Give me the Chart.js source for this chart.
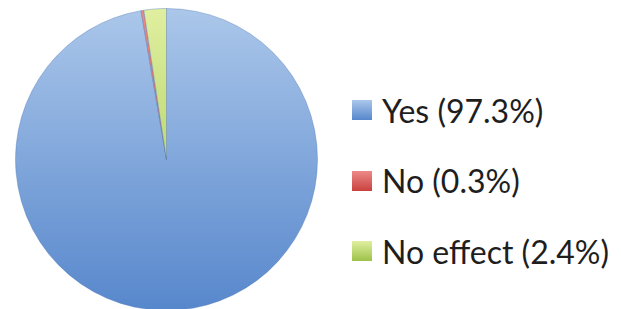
<!DOCTYPE html>
<html>
<head>
<meta charset="utf-8">
<script src="https://cdn.jsdelivr.net/npm/chart.js@4"></script>
<style>
  html, body { margin: 0; padding: 0; background: #fff; overflow: hidden; }
  body { width: 621px; height: 309px; position: relative; }
  #wrap { position: absolute; left: 0; top: 0; width: 333px; height: 319px; }
  #legend { position: absolute; left: 352px; top: 0; font-family: 'Lato', 'Open Sans', sans-serif; color: #1e1e1e; }
  .row { position: absolute; left: 0; height: 30px; display: flex; align-items: center; white-space: nowrap; }
  .box { width: 20px; height: 20px; margin-right: 10px; box-sizing: border-box; }
  .txt { font-size: 32px; }
</style>
</head>
<body>
<div id="wrap"><canvas id="grafico"></canvas></div>
<div id="legend"></div>
<script>
const categorias = ['Yes', 'No', 'No effect'];
const valores = [97.3, 0.3, 2.4];

// cores: [claro, escuro] para o degradê de cada fatia
const cores = [
    ['#abc7ea', '#5787cc'],
    ['#ec8a88', '#c9413e'],
    ['#e0efa0', '#9cc24a']
];

document.addEventListener("DOMContentLoaded", function() {
    const ctx = document.getElementById('grafico').getContext('2d');

    function degrade(context) {
        const area = context.chart.chartArea;
        if (!area) return cores[context.dataIndex][1];
        const g = context.chart.ctx.createLinearGradient(0, area.top, 0, area.bottom);
        g.addColorStop(0, cores[context.dataIndex][0]);
        g.addColorStop(1, cores[context.dataIndex][1]);
        return g;
    }

    new Chart(ctx, {
        type: 'pie',
        data: {
            labels: categorias,
            datasets: [{
                data: valores,
                backgroundColor: degrade,
                borderColor: 'rgba(80,120,180,0.4)',
                borderWidth: 1
            }]
        },
        options: {
            responsive: true,
            maintainAspectRatio: false,
            animation: false,
            layout: { padding: { left: 15, right: 15, top: 8, bottom: 8 } },
            plugins: {
                legend: { display: false },
                tooltip: { enabled: false }
            }
        }
    });

    // legenda em HTML
    const legenda = document.getElementById('legend');
    categorias.forEach(function(nome, i) {
        const linha = document.createElement('div');
        linha.className = 'row';
        linha.style.top = (95 + i * 70.5) + 'px';
        const caixa = document.createElement('div');
        caixa.className = 'box';
        caixa.style.background = 'linear-gradient(to bottom, ' + cores[i][0] + ', ' + cores[i][1] + ')';
        const texto = document.createElement('span');
        texto.className = 'txt';
        texto.textContent = nome + ' (' + valores[i].toFixed(1) + '%)';
        linha.appendChild(caixa);
        linha.appendChild(texto);
        legenda.appendChild(linha);
    });
});
</script>
</body>
</html>
